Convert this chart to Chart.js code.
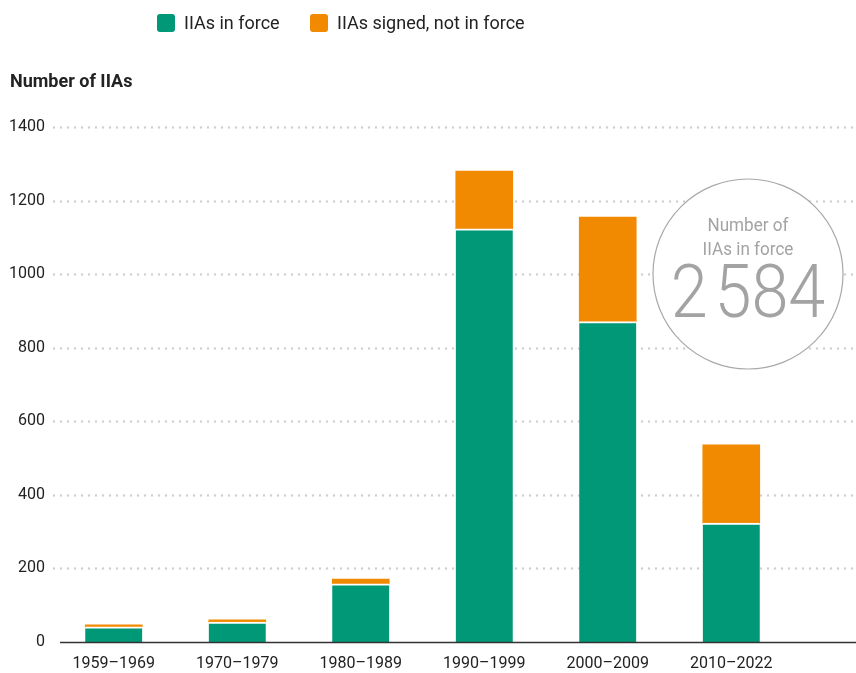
<!DOCTYPE html>
<html lang="en">
<head>
  <meta charset="UTF-8" />
  <title>IIAs by decade</title>
  <script src="https://cdn.jsdelivr.net/npm/chart.js"></script>
  <style>
    body { margin: 0; background: #fff; }
    #wrap { width: 856px; height: 673px; position: relative; }
  </style>
</head>
<body>
<div id="wrap"><canvas id="iiaChart"></canvas></div>
<script>
  // data
  const periods = ['1959\u20131969', '1970\u20131979', '1980\u20131989', '1990\u20131999', '2000\u20132009', '2010\u20132022'];
  const inForce = [41, 54, 158, 1123, 871, 323];
  const signedNotInForce = [6, 6, 13, 157, 284, 213];
  const yTicks = [0, 200, 400, 600, 800, 1000, 1200, 1400];
  const totalInForce = '2\u200A584';

  const GREEN = '#009877';
  const ORANGE = '#f18a00';
  const FONT = 'Roboto, "Liberation Sans", sans-serif';

  // dotted grid + baseline, drawn wider than the chart area like the original
  const gridPlugin = {
    id: 'dottedGrid',
    beforeDatasetsDraw(chart) {
      const { ctx, scales: { y }, chartArea } = chart;
      ctx.save();
      ctx.strokeStyle = '#cfcfcf';
      ctx.lineWidth = 2.4;
      ctx.lineCap = 'round';
      ctx.setLineDash([0, 7]);
      yTicks.forEach(v => {
        if (v === 0) return;
        const py = Math.round(y.getPixelForValue(v)) + 0.5;
        ctx.beginPath();
        ctx.moveTo(chartArea.left + 2, py);
        ctx.lineTo(chart.width, py);
        ctx.stroke();
      });
      ctx.restore();
    },
    afterDatasetsDraw(chart) {
      const { ctx, scales: { y } } = chart;
      const py = y.getPixelForValue(0);
      ctx.save();
      ctx.strokeStyle = '#333';
      ctx.lineWidth = 1.4;
      ctx.beginPath();
      ctx.moveTo(60, py + 0.5);
      ctx.lineTo(chart.width, py + 0.5);
      ctx.stroke();
      ctx.restore();
    }
  };

  // legend, axis title and the total bubble
  const extrasPlugin = {
    id: 'extras',
    afterDraw(chart) {
      const ctx = chart.ctx;
      ctx.save();

      // legend
      const items = chart.data.datasets.map(d => ({ label: d.label, color: d.backgroundColor }));
      const xs = [157, 310];
      ctx.font = '18px ' + FONT;
      ctx.textBaseline = 'middle';
      items.forEach((it, i) => {
        ctx.fillStyle = it.color;
        ctx.beginPath();
        ctx.roundRect(xs[i], 14, 18, 18, 3);
        ctx.fill();
        ctx.fillStyle = '#222';
        ctx.fillText(it.label, xs[i] + 27, 24);
      });

      // y axis title
      ctx.font = 'bold 18px ' + FONT;
      ctx.fillStyle = '#222';
      ctx.fillText('Number of IIAs', 10, 82);

      // circle with total
      const cx = 748, cy = 274, r = 95;
      ctx.beginPath();
      ctx.arc(cx, cy, r, 0, Math.PI * 2);
      ctx.fillStyle = '#fff';
      ctx.fill();
      ctx.strokeStyle = '#a8a8a8';
      ctx.lineWidth = 1.2;
      ctx.stroke();

      ctx.fillStyle = '#a3a3a3';
      ctx.textAlign = 'center';
      ctx.textBaseline = 'middle';
      ctx.save();
      ctx.translate(cx, 0);
      ctx.scale(0.9, 1);
      ctx.font = '19px ' + FONT;
      ctx.fillText('Number of', 0, 226);
      ctx.fillText('IIAs in force', 0, 250);
      ctx.font = '300 74px ' + FONT;
      ctx.fillText(totalInForce, 0, 298);
      ctx.restore();

      ctx.restore();
    }
  };

  const ctx = document.getElementById('iiaChart').getContext('2d');
  const chart = new Chart(ctx, {
    type: 'bar',
    data: {
      labels: periods,
      datasets: [
        {
          label: 'IIAs in force',
          data: inForce,
          backgroundColor: GREEN,
          borderColor: '#fff',
          borderWidth: { top: 2, left: 0, right: 0, bottom: 0 },
          borderSkipped: false,
          barThickness: 57
        },
        {
          label: 'IIAs signed, not in force',
          data: signedNotInForce,
          backgroundColor: ORANGE,
          borderWidth: 0,
          barThickness: 57
        }
      ]
    },
    options: {
      animation: false,
      responsive: true,
      maintainAspectRatio: false,
      layout: { padding: { top: 127, right: 63, left: 0, bottom: 0 } },
      plugins: {
        legend: { display: false },
        tooltip: { enabled: false }
      },
      scales: {
        x: {
          stacked: true,
          offset: true,
          grid: { display: false, drawTicks: false },
          border: { display: false },
          ticks: {
            color: '#222',
            font: { family: FONT, size: 16 },
            padding: 12,
            maxRotation: 0
          },
          afterFit(scale) { scale.height = 31; }
        },
        y: {
          stacked: true,
          min: 0,
          max: 1400,
          grid: { display: false, drawTicks: false },
          border: { display: false },
          ticks: {
            stepSize: 200,
            color: '#222',
            font: { family: FONT, size: 16 },
            padding: 7,
            callback: v => String(v)
          },
          afterFit(scale) { scale.width = 52; }
        }
      }
    },
    plugins: [gridPlugin, extrasPlugin]
  });
</script>
</body>
</html>
